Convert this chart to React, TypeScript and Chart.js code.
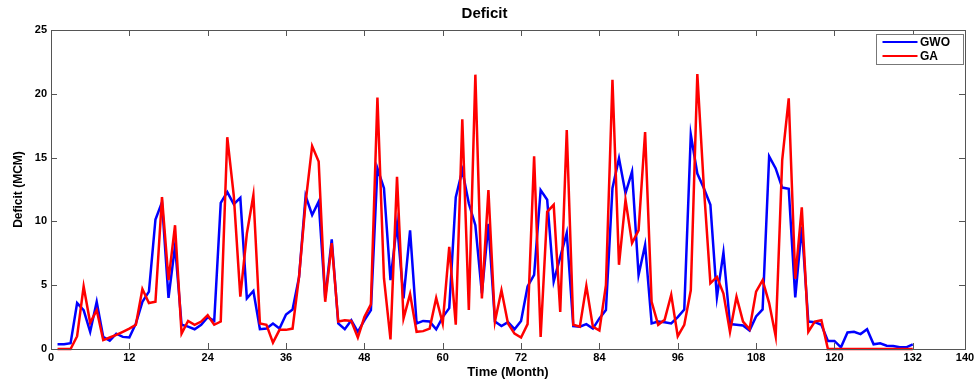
import React, { useEffect, useRef } from "react";
import { Chart, registerables } from "chart.js";

Chart.register(...registerables);

const months: number[] = Array.from({ length: 132 }, (_, i) => i + 1);

const gwo: number[] = [
  0.37, 0.37, 0.45, 3.6, 3.05, 1.35, 3.7, 0.95, 0.65, 1.2, 0.95, 0.9,
  2.0, 3.7, 4.5, 10.15, 11.5, 4.0, 8.1, 1.9, 1.75, 1.55, 1.9, 2.5,
  2.2, 11.45, 12.3, 11.35, 11.85, 3.97, 4.55, 1.55, 1.6, 2.0, 1.6, 2.7,
  3.1, 5.65, 12.0, 10.5, 11.55, 4.0, 8.6, 2.0, 1.55, 2.25, 1.35, 2.25,
  3.05, 14.15, 12.6, 5.4, 9.8, 3.97, 9.3, 2.0, 2.2, 2.15, 1.55, 2.5,
  3.2, 11.9, 14.0, 11.4, 9.7, 4.35, 9.8, 2.15, 1.8, 2.1, 1.55, 2.2,
  4.9, 5.8, 12.45, 11.7, 5.3, 7.2, 9.1, 1.8, 1.75, 1.95, 1.6, 2.4,
  3.05, 12.6, 14.95, 12.2, 13.9, 5.8, 8.15, 2.0, 2.15, 2.1, 2.0, 2.5,
  3.1, 16.8, 13.75, 12.6, 11.3, 4.05, 7.55, 1.95, 1.9, 1.85, 1.45, 2.55,
  3.1, 15.1, 14.15, 12.65, 12.55, 4.05, 9.6, 2.15, 2.1, 1.9, 0.63, 0.63,
  0.13, 1.3, 1.35, 1.17, 1.55, 0.37, 0.45, 0.26, 0.24, 0.13, 0.13, 0.37,
];

const ga: number[] = [
  0, 0, 0, 1.0, 4.9, 2.05, 3.05, 0.7, 0.9, 1.1, 1.35, 1.6,
  1.9, 4.7, 3.6, 3.7, 11.9, 5.4, 9.7, 1.2, 2.2, 1.9, 2.15, 2.65,
  1.9, 2.15, 16.6, 12.0, 4.1, 9.05, 12.05, 2.0, 1.9, 0.5, 1.5, 1.5,
  1.6, 5.7, 11.5, 15.9, 14.7, 3.7, 8.3, 2.15, 2.25, 2.2, 0.9, 2.5,
  3.5, 19.7, 5.55, 0.75, 13.5, 2.4, 4.3, 1.35, 1.4, 1.6, 4.0, 2.0,
  8.0, 1.9, 18.0, 3.05, 21.5, 3.97, 12.45, 2.15, 4.6, 2.0, 1.2, 0.9,
  1.95, 15.1, 0.95, 10.75, 11.3, 2.9, 17.15, 1.9, 1.75, 4.95, 1.75, 1.45,
  5.0, 21.1, 6.6, 11.7, 8.3, 9.3, 17.0, 3.7, 1.9, 2.3, 4.25, 1.0,
  1.9, 4.6, 21.55, 12.7, 5.15, 5.65, 4.35, 1.35, 4.1, 2.15, 1.55, 4.5,
  5.4, 3.6, 1.0, 14.8, 19.65, 5.5, 11.1, 1.35, 2.15, 2.25, 0, 0,
  0, 0, 0, 0, 0, 0, 0, 0, 0, 0, 0, 0,
];

const xTicks: number[] = [0, 12, 24, 36, 48, 60, 72, 84, 96, 108, 120, 132, 140];
const yTicks: number[] = [0, 5, 10, 15, 20, 25];

const seriesNames = ["GWO", "GA"];
const seriesColors = ["#0000FF", "#FF0000"];

const FONT = "'Liberation Sans', Arial, Helvetica, sans-serif";

const framePlugin = {
  id: "frameAndLegend",
  afterDraw(chart: any) {
    const { ctx, chartArea: a, scales } = chart;
    ctx.save();
    ctx.strokeStyle = "#555555";
    ctx.lineWidth = 1;
    ctx.strokeRect(Math.round(a.left) + 0.5, Math.round(a.top) + 0.5, Math.round(a.right - a.left), Math.round(a.bottom - a.top));
    const L = 6;
    ctx.beginPath();
    scales.x.ticks.forEach((t: any) => {
      const px = Math.round(scales.x.getPixelForValue(t.value)) + 0.5;
      ctx.moveTo(px, a.bottom);
      ctx.lineTo(px, a.bottom - L);
      ctx.moveTo(px, a.top);
      ctx.lineTo(px, a.top + L);
    });
    scales.y.ticks.forEach((t: any) => {
      const py = Math.round(scales.y.getPixelForValue(t.value)) + 0.5;
      ctx.moveTo(a.left, py);
      ctx.lineTo(a.left + L, py);
      ctx.moveTo(a.right, py);
      ctx.lineTo(a.right - L, py);
    });
    ctx.stroke();

    // legend box
    const bx = Math.round(a.right - 89) + 0.5;
    const by = Math.round(a.top + 4) + 0.5;
    const bw = 87;
    const bh = 30;
    ctx.fillStyle = "#ffffff";
    ctx.fillRect(bx, by, bw, bh);
    ctx.strokeStyle = "#777777";
    ctx.strokeRect(bx, by, bw, bh);
    ctx.font = `bold 12px ${FONT}`;
    ctx.textBaseline = "middle";
    ctx.textAlign = "left";
    seriesNames.forEach((name, i) => {
      const ly = by + 7.5 + i * 14;
      ctx.strokeStyle = seriesColors[i];
      ctx.lineWidth = 2;
      ctx.beginPath();
      ctx.moveTo(bx + 6, ly);
      ctx.lineTo(bx + 41, ly);
      ctx.stroke();
      ctx.fillStyle = "#000000";
      ctx.fillText(name, bx + 43.5, ly + 0.5);
    });
    ctx.restore();
  },
};

export default function App() {
  const canvasRef = useRef<HTMLCanvasElement | null>(null);

  useEffect(() => {
    document.body.style.margin = "0";
    const canvas = canvasRef.current;
    if (!canvas) return;
    const chart = new Chart(canvas, {
      type: "line",
      data: {
        datasets: [
          {
            label: seriesNames[0],
            data: months.map((m, i) => ({ x: m, y: gwo[i] })),
            borderColor: seriesColors[0],
            backgroundColor: seriesColors[0],
            borderWidth: 2.5,
            pointRadius: 0,
            tension: 0,
            order: 1,
            clip: 3,
          },
          {
            label: seriesNames[1],
            data: months.map((m, i) => ({ x: m, y: ga[i] })),
            borderColor: seriesColors[1],
            backgroundColor: seriesColors[1],
            borderWidth: 2.5,
            pointRadius: 0,
            tension: 0,
            order: 0,
            clip: 3,
          },
        ],
      },
      options: {
        animation: false,
        responsive: false,
        devicePixelRatio: 1,
        layout: { padding: { left: 4, right: 15, top: 0, bottom: 3 } },
        plugins: {
          legend: { display: false },
          tooltip: { enabled: false },
          title: {
            display: true,
            text: "Deficit",
            color: "#000",
            font: { family: FONT, size: 15, weight: "bold" },
            padding: { top: 5, bottom: 7 },
          },
        },
        scales: {
          x: {
            type: "linear",
            min: 0,
            max: 140,
            afterBuildTicks: (s: any) => {
              s.ticks = xTicks.map((v) => ({ value: v }));
            },
            afterFit: (s: any) => {
              s.height = 31;
            },
            grid: { display: false, drawTicks: false },
            border: { display: false },
            ticks: {
              color: "#000",
              font: { family: FONT, size: 11, weight: "bold" },
              padding: 2,
              maxRotation: 0,
              autoSkip: false,
            },
            title: {
              display: true,
              text: "Time (Month)",
              color: "#000",
              font: { family: FONT, size: 13, weight: "bold" },
              padding: { top: 0, bottom: 0 },
            },
          },
          y: {
            type: "linear",
            min: 0,
            max: 25,
            afterBuildTicks: (s: any) => {
              s.ticks = yTicks.map((v) => ({ value: v }));
            },
            afterFit: (s: any) => {
              s.width = 47;
            },
            grid: { display: false, drawTicks: false },
            border: { display: false },
            ticks: {
              color: "#000",
              font: { family: FONT, size: 11, weight: "bold" },
              padding: 4,
            },
            title: {
              display: true,
              text: "Deficit (MCM)",
              color: "#000",
              font: { family: FONT, size: 12, weight: "bold" },
              padding: { top: 7, bottom: 0 },
            },
          },
        },
      },
      plugins: [framePlugin],
    });
    return () => chart.destroy();
  }, []);

  return (
    <div style={{ position: "absolute", left: 0, top: 0, width: 980, height: 383, background: "#fff" }}>
      <canvas ref={canvasRef} width={980} height={383} style={{ width: 980, height: 383 }} />
    </div>
  );
}
